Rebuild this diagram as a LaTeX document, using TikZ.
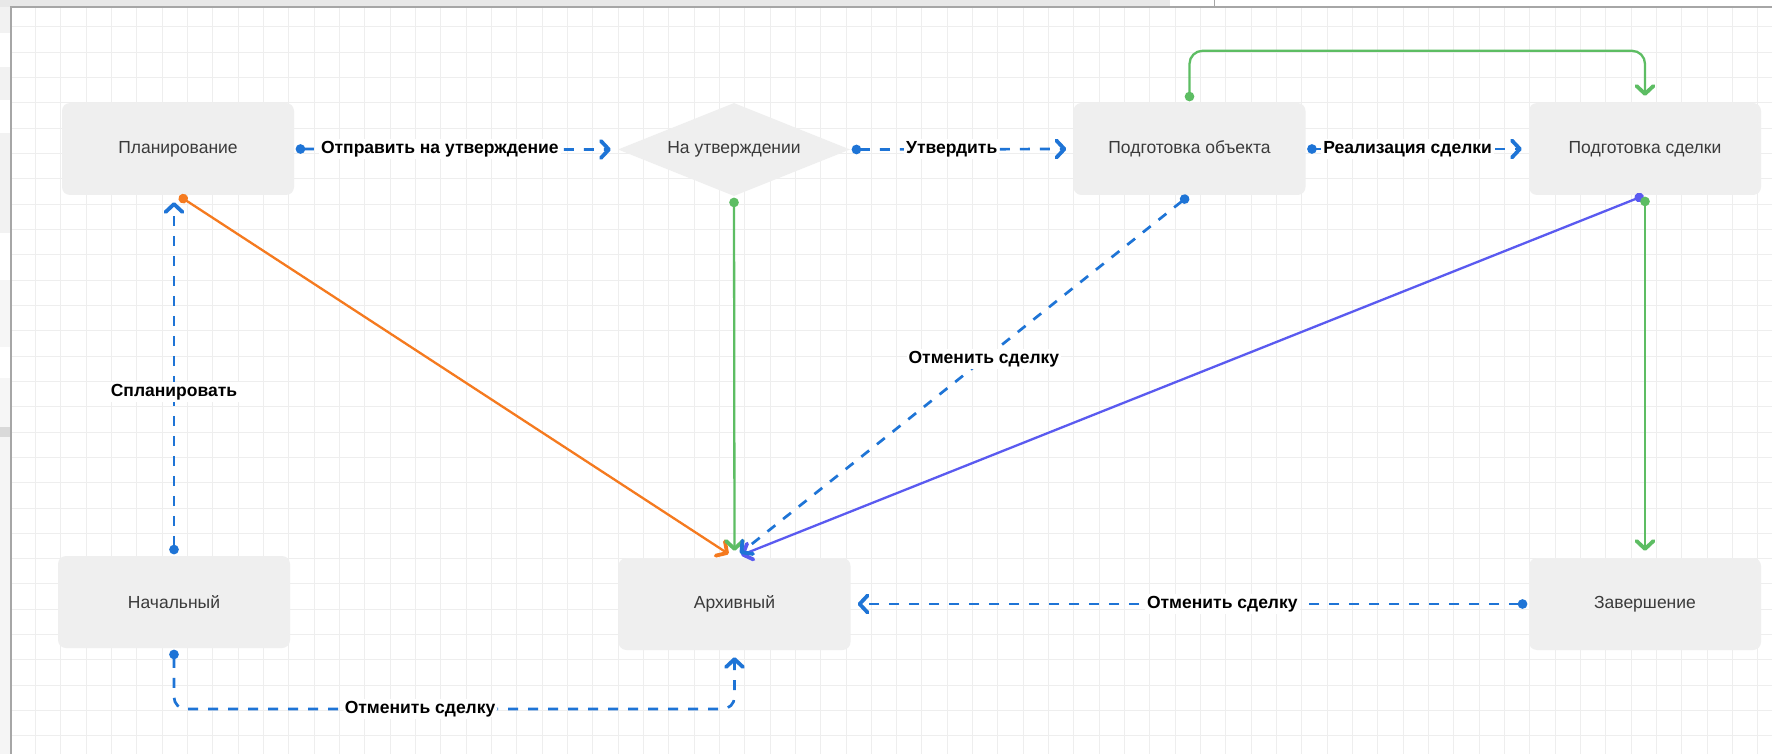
\documentclass[tikz,border=0pt]{standalone}
\usepackage{fontspec}
\setmainfont{Liberation Sans}
\usetikzlibrary{arrows.meta,shapes.geometric,calc}
\definecolor{boxfill}{HTML}{EFEFEF}
\definecolor{statetext}{HTML}{3A3A3A}
\definecolor{cblue}{HTML}{1E74D6}
\definecolor{corange}{HTML}{F57A1F}
\definecolor{cgreen}{HTML}{5DBD63}
\definecolor{cpurple}{HTML}{5A5AF0}
\definecolor{gridc}{HTML}{EEEEEE}
\definecolor{framec}{HTML}{A6A6A6}
\newcommand{\statefont}{\fontsize{17.5}{21}\selectfont}
\newcommand{\lblfont}{\fontsize{17.5}{21}\selectfont\bfseries}
\tikzset{
  state/.style={rectangle, rounded corners=8pt, fill=boxfill, draw=none,
    minimum width=232pt, minimum height=92pt, inner sep=0pt,
    font=\statefont, text=statetext},
  decision/.style={diamond, aspect=2.5, fill=boxfill, draw=none,
    minimum width=232pt, minimum height=93pt, inner sep=0pt,
    font=\statefont, text=statetext},
  lbl/.style={fill=white, inner sep=2pt, font=\lblfont, text=black},
  conn/.style={line width=2.3pt,
    {Circle[length=9.5pt,width=9.5pt]}-{Straight Barb[length=8pt,width=17pt,line width=3.8pt,round]},
    shorten <=1.5pt, shorten >=7pt},
  bluedash/.style={conn, line width=2.7pt, draw=cblue, dash pattern=on 10pt off 10pt},
  orangeline/.style={conn, draw=corange},
  greenline/.style={conn, draw=cgreen},
  purpleline/.style={conn, draw=cpurple},
}
\begin{document}
\begin{tikzpicture}[x=1pt,y=-1pt]
% canvas
\fill[white] (0,0) rectangle (1772,754);
\useasboundingbox (0,0) rectangle (1772,754);
% UI remnants
\fill[gray!18] (0,0) rectangle (1170,7);
\draw[gray!70, line width=1pt] (1214,0) -- (1214,7);
\fill[gray!10] (0,7) rectangle (11,33);
\fill[gray!10] (0,67) rectangle (11,100);
\fill[gray!10] (0,133) rectangle (11,233);
\fill[gray!7] (0,280) rectangle (11,347);
\fill[gray!7] (0,378) rectangle (11,427);
\fill[gray!30] (0,427) rectangle (11,437);
\fill[gray!8] (0,437) rectangle (11,754);
% grid
\foreach \i in {0,...,69} {
  \draw[gridc, line width=1pt] ({10.1+25.33*\i},8) -- ({10.1+25.33*\i},754);
}
\foreach \j in {1,...,29} {
  \draw[gridc, line width=1pt] (11,{1.4+25.33*\j}) -- (1772,{1.4+25.33*\j});
}
% frame
\draw[framec, line width=2pt] (11,754) -- (11,7.5) -- (1772,7.5);

% states
\node[state] (plan) at (178,149) {Планирование};
\node[decision] (appr) at (734,149.5) {На утверждении};
\node[state] (obj) at (1189.5,149) {Подготовка объекта};
\node[state] (sd) at (1645,149) {Подготовка сделки};
\node[state] (nach) at (174,602) {Начальный};
\node[state] (arch) at (734.5,604) {Архивный};
\node[state] (zav) at (1645,604) {Завершение};

% connectors
\draw[orangeline] (plan.south) -- (arch.north);
\draw[greenline] (appr.south) -- (arch.north);
\draw[purpleline] (sd.south) -- (arch.north);
\draw[bluedash] (obj.south) -- node[lbl,pos=0.452]{Отменить сделку} (arch.north);
\draw[greenline] (sd.south) -- (zav.north);
\draw[greenline, rounded corners=13pt] (obj.north) -- ++(0,-52) -| (sd.north);

\draw[bluedash] (plan.east) -- node[lbl,pos=0.45]{Отправить на утверждение} (appr.west);
\draw[bluedash] (appr.east) -- node[lbl,pos=0.455]{Утвердить} (obj.west);
\draw[bluedash] (obj.east) -- node[lbl,pos=0.457]{Реализация сделки} (sd.west);
\draw[bluedash] (nach.north) -- node[lbl,pos=0.454]{Спланировать} (nach.north |- plan.south);
\draw[bluedash] (zav.west) -- node[lbl,pos=0.452]{Отменить сделку} (arch.east);
\draw[bluedash, rounded corners=12pt] (nach.south) -- (nach.south |- 0,709)
  -- node[lbl,pos=0.439]{Отменить сделку} (arch.south |- 0,709) -- (arch.south);
\end{tikzpicture}
\end{document}
